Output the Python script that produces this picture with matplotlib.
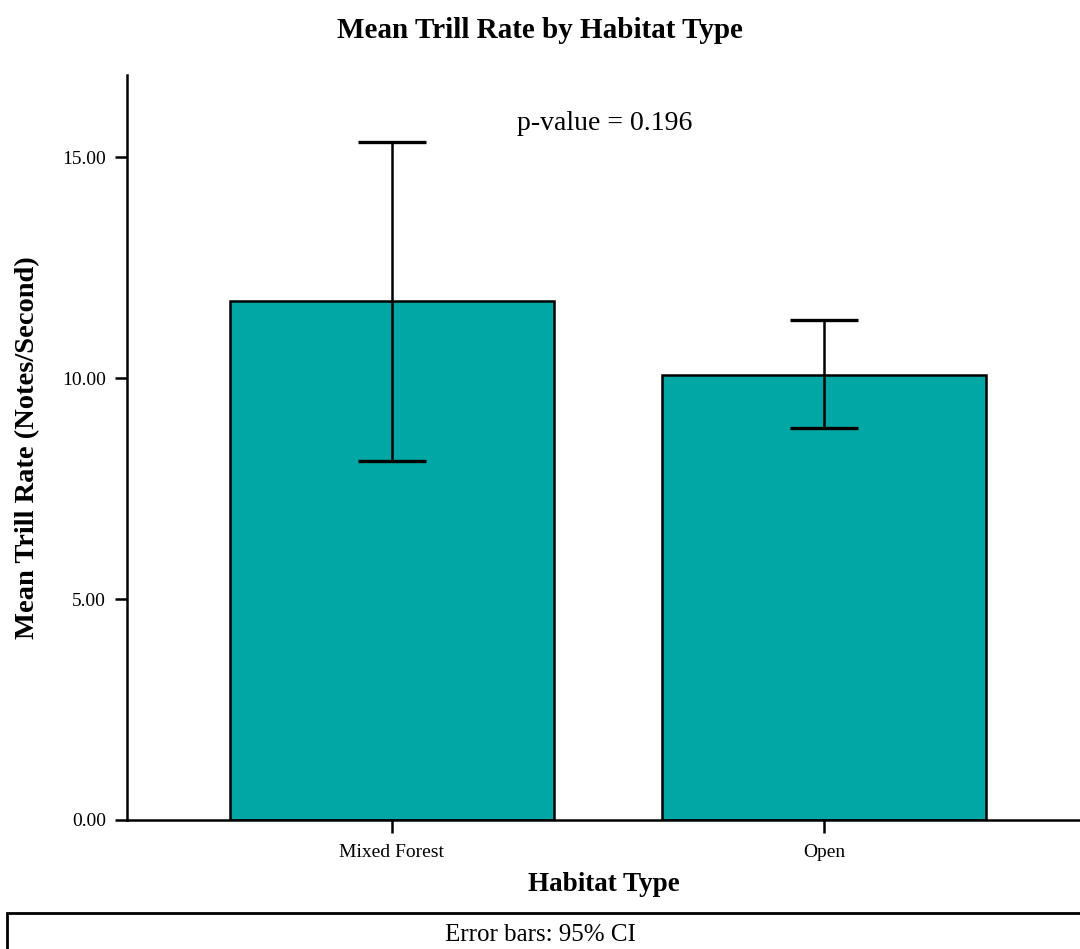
import numpy as np
import matplotlib
matplotlib.use('Agg')
import matplotlib.pyplot as plt
from matplotlib.patches import Rectangle

# data
habitats = ['Mixed Forest', 'Open']
means = [11.74, 10.07]
ci_low = [8.12, 8.87]
ci_high = [15.34, 11.31]
yticks = [0, 5, 10, 15]

plt.rcParams['font.family'] = ['Liberation Serif', 'DejaVu Serif']

fig = plt.figure(figsize=(10.8, 9.49), dpi=100)
ax = fig.add_axes([127/1080, 1-820/949, 1-127/1080, (820-75)/949])

x = np.arange(len(habitats))
m = np.array(means)
err = np.vstack([m - np.array(ci_low), np.array(ci_high) - m])

ax.bar(x, means, width=0.75, color='#00A7A5', edgecolor='black', linewidth=1.8, zorder=2)
ax.errorbar(x, means, yerr=err, fmt='none', ecolor='black', elinewidth=1.8,
            capsize=24.5, capthick=2.4, zorder=3)

ax.set_xlim(-0.613, 1.593)
ax.set_ylim(0, 16.86)
ax.set_xticks(x)
ax.set_xticklabels(habitats, fontsize=14)
ax.set_yticks(yticks)
ax.set_yticklabels(['%.2f' % v for v in yticks], fontsize=14)
ax.tick_params(axis='both', length=9, width=1.8, color='black')
ax.tick_params(axis='x', pad=8)
ax.tick_params(axis='y', pad=6)

for s in ['top', 'right']:
    ax.spines[s].set_visible(False)
for s in ['left', 'bottom']:
    ax.spines[s].set_linewidth(1.8)

ax.set_ylabel('Mean Trill Rate (Notes/Second)', fontsize=20.5, fontweight='bold', labelpad=16)
ax.set_xlabel('Habitat Type', fontsize=19.5, fontweight='bold', labelpad=8)

fig.text(605/1080, 1-123/949, 'p-value = 0.196', fontsize=20, ha='center', va='center')
fig.text(0.5, 1-30/949, 'Mean Trill Rate by Habitat Type', fontsize=21, fontweight='bold',
         ha='center', va='center')

fig.patches.append(Rectangle((7/1080, -0.02), 1.0, (949-913)/949 + 0.02, transform=fig.transFigure,
                             fill=False, edgecolor='black', linewidth=2.0))
fig.text(0.5, 1-935/949, 'Error bars: 95% CI', fontsize=18, ha='center', va='center')

fig.savefig('out.png', dpi=100)
